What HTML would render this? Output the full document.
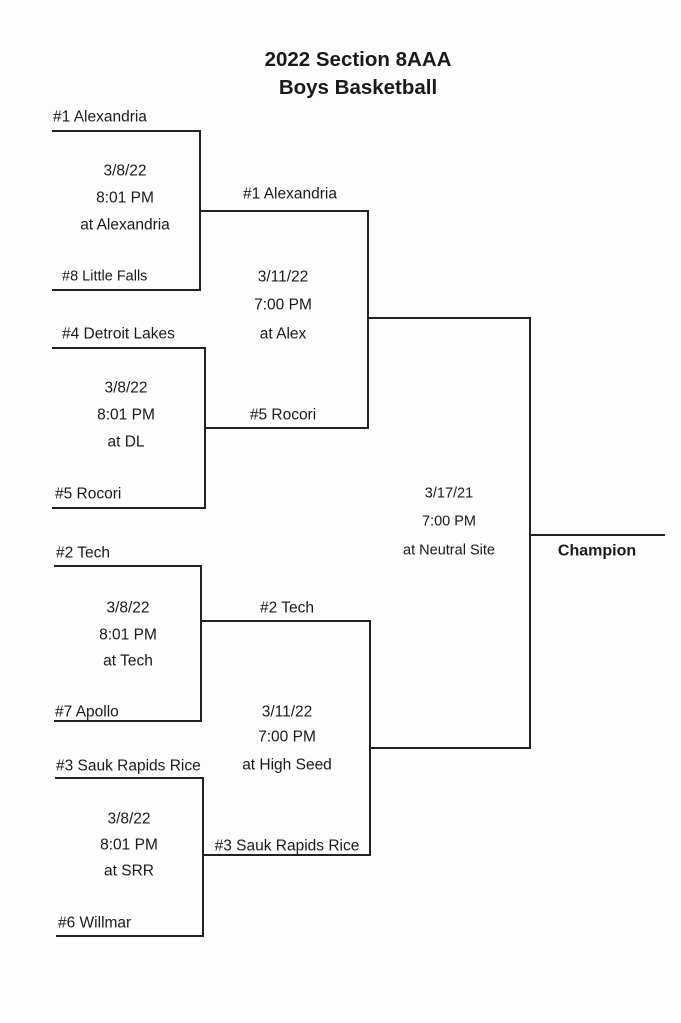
<!DOCTYPE html>
<html><head><meta charset="utf-8"><style>
body{margin:0;width:681px;height:1023px;background:#fdfdfd;position:relative;overflow:hidden;font-family:"Liberation Sans",sans-serif;color:#1a1a1a}
.t{position:absolute;font-size:15.5px;line-height:17px;white-space:nowrap;transform:translateY(-50%)}
.c{transform:translate(-50%,-50%)}
.s{font-size:14.5px}
.h{position:absolute;height:2px;background:#222}
.v{position:absolute;width:2px;background:#222}
</style></head><body>
<div class="t c" style="left:358px;top:60px;font-size:20.5px;font-weight:bold;line-height:24px">2022 Section 8AAA</div>
<div class="t c" style="left:358px;top:88px;font-size:20.5px;font-weight:bold;line-height:24px">Boys Basketball</div>

<div class="h" style="left:52px;top:130px;width:149px"></div>
<div class="v" style="left:199px;top:130px;height:161px"></div>
<div class="h" style="left:52px;top:289px;width:149px"></div>
<div class="h" style="left:199px;top:210px;width:170px"></div>
<div class="v" style="left:367px;top:210px;height:219px"></div>
<div class="h" style="left:52px;top:347px;width:154px"></div>
<div class="v" style="left:204px;top:347px;height:162px"></div>
<div class="h" style="left:52px;top:507px;width:154px"></div>
<div class="h" style="left:204px;top:427px;width:165px"></div>
<div class="h" style="left:367px;top:317px;width:164px"></div>
<div class="v" style="left:529px;top:317px;height:432px"></div>
<div class="h" style="left:369px;top:747px;width:162px"></div>
<div class="h" style="left:529px;top:534px;width:136px"></div>

<div class="h" style="left:54px;top:565px;width:148px"></div>
<div class="v" style="left:200px;top:565px;height:157px"></div>
<div class="h" style="left:54px;top:720px;width:148px"></div>
<div class="h" style="left:200px;top:620px;width:171px"></div>
<div class="v" style="left:369px;top:620px;height:236px"></div>
<div class="h" style="left:202px;top:854px;width:169px"></div>
<div class="h" style="left:55px;top:777px;width:149px"></div>
<div class="v" style="left:202px;top:777px;height:160px"></div>
<div class="h" style="left:56px;top:935px;width:148px"></div>

<div class="t" style="left:53px;top:117px">#1 Alexandria</div>
<div class="t c" style="left:125px;top:171px">3/8/22</div>
<div class="t c" style="left:125px;top:198px">8:01 PM</div>
<div class="t c" style="left:125px;top:225px">at Alexandria</div>
<div class="t s" style="left:62px;top:277px">#8 Little Falls</div>
<div class="t c" style="left:290px;top:194px">#1 Alexandria</div>
<div class="t c" style="left:283px;top:277px">3/11/22</div>
<div class="t c" style="left:283px;top:305px">7:00 PM</div>
<div class="t c" style="left:283px;top:334px">at Alex</div>
<div class="t" style="left:62px;top:334px">#4 Detroit Lakes</div>
<div class="t c" style="left:126px;top:388px">3/8/22</div>
<div class="t c" style="left:126px;top:415px">8:01 PM</div>
<div class="t c" style="left:126px;top:442px">at DL</div>
<div class="t" style="left:55px;top:494px">#5 Rocori</div>
<div class="t c" style="left:283px;top:415px">#5 Rocori</div>
<div class="t c s" style="left:449px;top:494px">3/17/21</div>
<div class="t c s" style="left:449px;top:522px">7:00 PM</div>
<div class="t c s" style="left:449px;top:551px">at Neutral Site</div>
<div class="t c" style="left:597px;top:551px;font-size:16px;font-weight:bold">Champion</div>

<div class="t" style="left:56px;top:553px">#2 Tech</div>
<div class="t c" style="left:128px;top:608px">3/8/22</div>
<div class="t c" style="left:128px;top:635px">8:01 PM</div>
<div class="t c" style="left:128px;top:661px">at Tech</div>
<div class="t" style="left:55px;top:712px">#7 Apollo</div>
<div class="t c" style="left:287px;top:608px">#2 Tech</div>
<div class="t c" style="left:287px;top:712px">3/11/22</div>
<div class="t c" style="left:287px;top:737px">7:00 PM</div>
<div class="t c" style="left:287px;top:765px">at High Seed</div>
<div class="t" style="left:56px;top:766px">#3 Sauk Rapids Rice</div>
<div class="t c" style="left:129px;top:819px">3/8/22</div>
<div class="t c" style="left:129px;top:845px">8:01 PM</div>
<div class="t c" style="left:129px;top:871px">at SRR</div>
<div class="t" style="left:58px;top:923px">#6 Willmar</div>
<div class="t c" style="left:287px;top:846px">#3 Sauk Rapids Rice</div>
</body></html>
